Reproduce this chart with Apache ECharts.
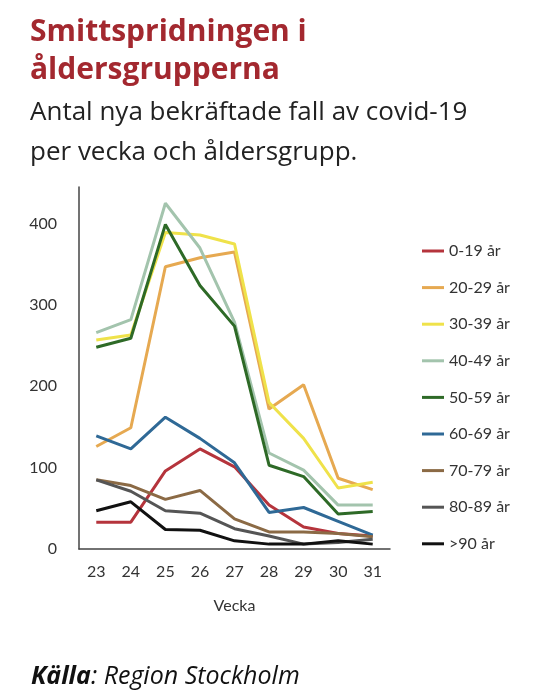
<!DOCTYPE html>
<html>
<head>
	<meta charset="utf-8"/>
	<title>Smittspridningen i åldersgrupperna</title>
	<script src="https://cdn.jsdelivr.net/npm/echarts@6/dist/echarts.min.js"></script>
</head>
<body style="margin: 0; background: #fff;">

	<div id="chart" style="width: 546px; height: 700px;"></div>

	<script>
		// veckor
		var weeks = ['23', '24', '25', '26', '27', '28', '29', '30', '31'];

		var groupNames = ['0-19 år', '20-29 år', '30-39 år', '40-49 år', '50-59 år', '60-69 år', '70-79 år', '80-89 år', '>90 år'];
		var groupColors = ['#b5343c', '#e6a951', '#efe24a', '#a3c4ad', '#2e6a27', '#2f6996', '#8b6a45', '#555555', '#111111'];

		// avlästa värden per åldersgrupp
		var age0to19 = [33, 33, 96, 123, 101, 54, 27, 19, 16];
		var age20to29 = [126, 149, 347, 358, 365, 172, 202, 87, 73];
		var age30to39 = [257, 263, 389, 386, 375, 180, 136, 75, 82];
		var age40to49 = [266, 282, 425, 370, 279, 118, 97, 54, 54];
		var age50to59 = [248, 259, 399, 324, 274, 103, 89, 43, 46];
		var age60to69 = [139, 123, 162, 136, 106, 45, 51, 34, 17];
		var age70to79 = [85, 78, 61, 72, 37, 21, 21, 19, 15];
		var age80to89 = [85, 71, 47, 44, 25, 16, 6, 8, 12];
		var age90plus = [47, 58, 24, 23, 10, 6, 6, 10, 6];

		var groupValues = [age0to19, age20to29, age30to39, age40to49, age50to59, age60to69, age70to79, age80to89, age90plus];

		var series = groupNames.map(function (name, i) {
			return {
				name: name,
				type: 'line',
				data: groupValues[i],
				symbol: 'none',
				silent: true,
				lineStyle: { width: 3, color: groupColors[i] },
				itemStyle: { color: groupColors[i] }
			};
		});

		var option = {
			animation: false,
			title: [
				{
					text: 'Smittspridningen i\nåldersgrupperna',
					left: 25,
					top: 8,
					textStyle: {
						fontFamily: 'Open Sans',
						fontWeight: 'bold',
						fontSize: 30,
						lineHeight: 38,
						color: '#a3282f'
					}
				},
				{
					text: 'Antal nya bekräftade fall av covid-19\nper vecka och åldersgrupp.',
					left: 25,
					top: 88,
					textStyle: {
						fontFamily: 'Open Sans',
						fontWeight: 'normal',
						fontSize: 26,
						lineHeight: 40,
						color: '#222'
					}
				},
				{
					text: '{b|Källa}{i|: Region Stockholm}',
					left: 26,
					top: 659,
					textStyle: {
						rich: {
							b: { fontFamily: 'Open Sans', fontWeight: 'bold', fontStyle: 'italic', fontSize: 25, color: '#111' },
							i: { fontFamily: 'Open Sans', fontWeight: 'normal', fontStyle: 'italic', fontSize: 25, color: '#111' }
						}
					}
				}
			],
			legend: {
				orient: 'vertical',
				left: 417,
				top: 236,
				icon: 'rect',
				itemWidth: 22,
				itemHeight: 3,
				itemGap: 16.6,
				itemTextGap: 6,
				selectedMode: false,
				data: groupNames,
				textStyle: { fontFamily: 'Lato', fontSize: 16, lineHeight: 20, color: '#333' }
			},
			grid: {
				left: 79,
				right: 156,
				top: 187,
				bottom: 151
			},
			xAxis: {
				type: 'category',
				data: weeks,
				boundaryGap: true,
				name: 'Vecka',
				nameLocation: 'middle',
				nameGap: 49,
				nameTextStyle: { fontFamily: 'Lato', fontSize: 16, color: '#333' },
				axisLine: { lineStyle: { color: '#444', width: 1.5 } },
				axisTick: { show: false },
				axisLabel: { fontFamily: 'Lato', fontSize: 16, color: '#333', margin: 15 }
			},
			yAxis: {
				type: 'value',
				min: 0,
				max: 445,
				interval: 100,
				axisLine: { show: true, lineStyle: { color: '#444', width: 1.5 } },
				axisTick: { show: false },
				splitLine: { show: false },
				axisLabel: { fontFamily: 'Lato', fontSize: 16, color: '#333', margin: 22, showMaxLabel: false }
			},
			series: series
		};

		var myChart = echarts.init(document.getElementById('chart'));
		myChart.setOption(option);
	</script>
</body>
</html>
